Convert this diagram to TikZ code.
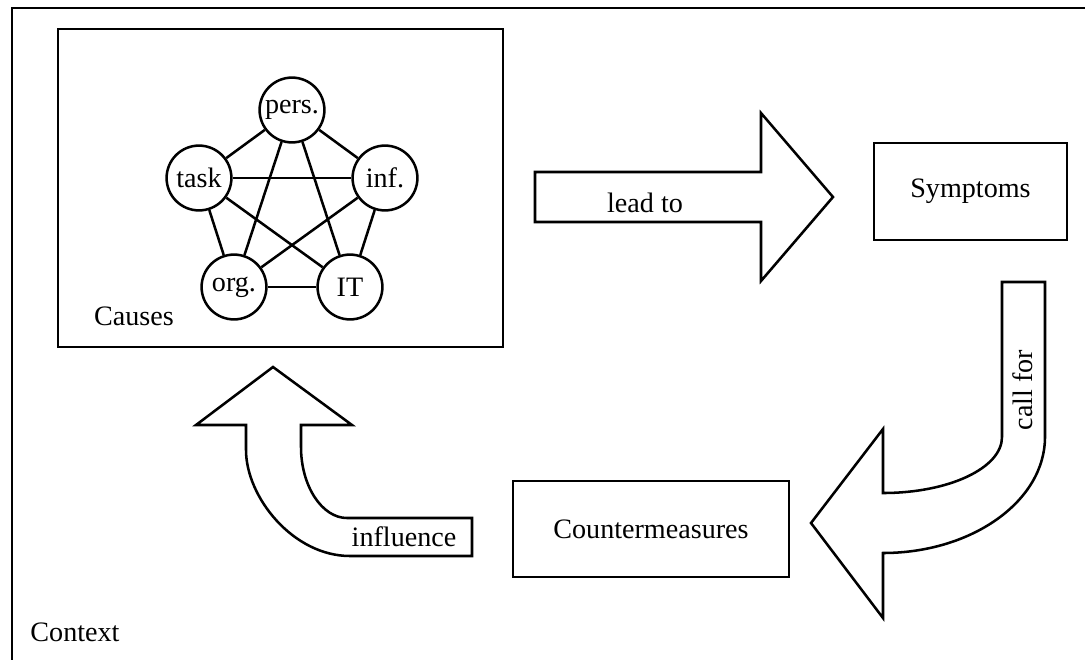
\documentclass[tikz,border=0pt]{standalone}
\usepackage{fontspec}
\setmainfont{Liberation Serif}
\usetikzlibrary{positioning,calc}

\begin{document}
\begin{tikzpicture}[
    x=0.025cm, y=-0.025cm,
    every node/.style={font=\fontsize{20}{24}\selectfont},
    frame/.style={draw, line width=1.9pt},
    box/.style={rectangle, draw, line width=1.9pt, inner sep=0pt},
    factor/.style={circle, draw, line width=1.8pt, minimum size=1.62cm, inner sep=0pt},
    link/.style={line width=1.8pt},
    blockarrow/.style={draw, line width=1.8pt, line join=miter, fill=white},
    label/.style={inner sep=1pt}
]

% Page
\useasboundingbox (0,0) rectangle (1085,659);
\clip (0,0) rectangle (1085,659);

% Context
\draw[frame] (12,680) -- (12,8) -- (1100,8);
\node[label] (context) at (75,632) {Context};

% Causes
\node[box, minimum width=445*0.025cm, minimum height=318*0.025cm] (causes) at (280.5,188) {};
\node[label] (causeslbl) at (134,316) {Causes};

\coordinate (mid) at (292,208);
\node[factor] (pers) at ($(mid)+(0,-98)$) {pers.};
\node[factor] (task) at ($(mid)+(-93,-30)$) {task};
\node[factor] (org)  at ($(mid)+(-58,79)$) {org.};
\node[factor] (it)   at ($(mid)+(58,79)$) {IT};
\node[factor] (inf)  at ($(mid)+(93,-30)$) {inf.};

\foreach \source/\dest in {pers/task, pers/org, pers/it, pers/inf, task/org, task/it, task/inf, org/it, org/inf, it/inf} {
    \draw[link] (\source) -- (\dest);
}

% Symptoms
\node[box, minimum width=193*0.025cm, minimum height=97*0.025cm] (symptoms) at (970.5,191.5) {Symptoms};

% Countermeasures
\node[box, minimum width=276*0.025cm, minimum height=96*0.025cm] (counter) at (651,529) {Countermeasures};

% lead to
\draw[blockarrow] (535,172) -- (761,172) -- (761,113) -- (833,197) -- (761,281) -- (761,222) -- (535,222) -- cycle;
\node[label] (leadto) at (645,203) {lead to};

% call for
\draw[blockarrow] (1002,282) -- (1045,282) -- (1045,437)
    .. controls (1045,501) and (972,553) .. (883,553)
    -- (883,618) -- (811,523) -- (883,429) -- (883,493)
    .. controls (949,493) and (1002,468) .. (1002,437) -- cycle;
\node[label, rotate=90] (callfor) at (1023,390) {call for};

% influence
\draw[blockarrow] (472,518) -- (472,556) -- (350,556)
    .. controls (293,556) and (246,497) .. (246,450)
    -- (246,425) -- (196,425) -- (273,367) -- (352,425) -- (301,425) -- (301,447)
    .. controls (301,486) and (322,518) .. (347,518) -- cycle;
\node[label] (influence) at (404,537) {influence};

\end{tikzpicture}
\end{document}
